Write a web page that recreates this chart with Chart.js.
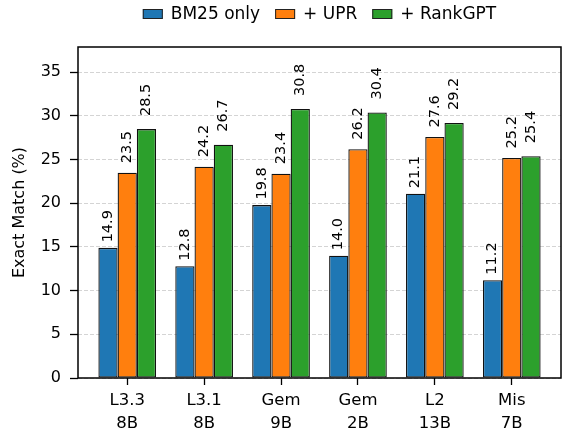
<!DOCTYPE html>
<html>
<head>
<meta charset="utf-8">
<script src="https://cdn.jsdelivr.net/npm/chart.js@4.4.1/dist/chart.umd.min.js"></script>
<style>
  html, body { margin: 0; padding: 0; background: #ffffff; }
  #wrap { width: 563px; height: 429px; }
</style>
</head>
<body>
<div id="wrap"><canvas id="c" width="563" height="429"></canvas></div>
<script>
// ---- data ----
const categories = [["L3.3", "8B"], ["L3.1", "8B"], ["Gem", "9B"], ["Gem", "2B"], ["L2", "13B"], ["Mis", "7B"]];
const seriesNames = ["BM25 only", "+ UPR", "+ RankGPT"];
const bm25Only = [14.9, 12.8, 19.8, 14.0, 21.1, 11.2];
const plusUPR = [23.5, 24.2, 23.4, 26.2, 27.6, 25.2];
const plusRankGPT = [28.5, 26.7, 30.8, 30.4, 29.2, 25.4];
const yTicks = [0, 5, 10, 15, 20, 25, 30, 35];
const yMax = 37.9;

const colors = ["#1f77b4", "#ff7f0e", "#2ca02c"];
const labelGaps = [5.5, 9.5, 13];
const seriesValues = [bm25Only, plusUPR, plusRankGPT];
const FONT = "'DejaVu Sans', sans-serif";

const datasets = seriesValues.map((vals, s) => ({
  label: seriesNames[s],
  data: vals.map((v, i) => ({ x: i, y: v })),
  backgroundColor: colors[s],
  borderColor: "#111111",
  borderWidth: 1.3,
  borderSkipped: false,
  categoryPercentage: 0.75,
  barPercentage: 1.0
}));

const valueLabels = {
  id: "valueLabels",
  afterDatasetsDraw(chart) {
    const ctx = chart.ctx;
    ctx.save();
    ctx.fillStyle = "#000";
    ctx.font = "14.5px " + FONT;
    ctx.textAlign = "left";
    ctx.textBaseline = "middle";
    chart.data.datasets.forEach((ds, di) => {
      const meta = chart.getDatasetMeta(di);
      meta.data.forEach((bar, i) => {
        const v = ds.data[i].y;
        ctx.save();
        ctx.translate(bar.x, bar.y - labelGaps[di]);
        ctx.rotate(-Math.PI / 2);
        ctx.fillText(v.toFixed(1), 0, 0);
        ctx.restore();
      });
    });
    ctx.restore();
  }
};

const frameAndLegend = {
  id: "frameAndLegend",
  afterDraw(chart) {
    const ctx = chart.ctx;
    const a = chart.chartArea;
    ctx.save();
    ctx.setLineDash([]);
    ctx.strokeStyle = "#000";
    ctx.lineWidth = 1.5;
    ctx.strokeRect(a.left, a.top, a.right - a.left, a.bottom - a.top);

    // legend
    ctx.font = "17px " + FONT;
    const boxW = 20, boxH = 10, gapText = 8, gapItem = 15;
    const widths = seriesNames.map(n => ctx.measureText(n).width);
    let total = 0;
    widths.forEach((w, i) => { total += boxW + gapText + w + (i < widths.length - 1 ? gapItem : 0); });
    let x = (a.left + a.right) / 2 - total / 2;
    const cy = 14;
    ctx.textBaseline = "middle";
    ctx.textAlign = "left";
    seriesNames.forEach((n, i) => {
      ctx.fillStyle = colors[i];
      ctx.fillRect(x, cy - boxH / 2, boxW, boxH);
      ctx.strokeStyle = "#222";
      ctx.lineWidth = 1;
      ctx.strokeRect(x + 0.5, cy - boxH / 2 + 0.5, boxW - 1, boxH - 1);
      ctx.fillStyle = "#000";
      ctx.fillText(n, x + boxW + gapText, cy + 1);
      x += boxW + gapText + widths[i] + gapItem;
    });
    ctx.restore();
  }
};

new Chart(document.getElementById("c"), {
  type: "bar",
  data: { datasets },
  options: {
    responsive: false,
    animation: false,
    devicePixelRatio: 1,
    layout: { padding: { left: 0, right: 2, top: 47, bottom: 0 } },
    plugins: {
      legend: { display: false },
      tooltip: { enabled: false }
    },
    scales: {
      x: {
        type: "linear",
        min: -0.64,
        max: 5.64,
        offset: false,
        afterFit(scale) { scale.height = 51; },
        afterBuildTicks(scale) { scale.ticks = categories.map((c, i) => ({ value: i })); },
        border: { display: false },
        grid: {
          offset: false,
          drawOnChartArea: false,
          drawTicks: true,
          tickLength: 7,
          tickColor: "#000",
          tickWidth: 1.3
        },
        ticks: {
          autoSkip: false,
          maxRotation: 0,
          padding: 4,
          color: "#000",
          font: { family: FONT, size: 16.5, lineHeight: 1.4 },
          callback: (v) => categories[v]
        }
      },
      y: {
        min: 0,
        max: yMax,
        afterFit(scale) { scale.width = 78; },
        afterBuildTicks(scale) { scale.ticks = yTicks.map(v => ({ value: v })); },
        border: { display: false, dash: [4, 2] },
        grid: {
          color: "rgba(0,0,0,0.17)",
          lineWidth: 1,
          drawTicks: true,
          tickLength: 8,
          tickColor: "#000",
          tickWidth: 1.3,
          tickBorderDash: []
        },
        ticks: {
          padding: 9,
          color: "#000",
          font: { family: FONT, size: 16 }
        },
        title: {
          display: true,
          text: "Exact Match (%)",
          color: "#000",
          font: { family: FONT, size: 16 },
          padding: { top: 10, bottom: 0 }
        }
      }
    }
  },
  plugins: [valueLabels, frameAndLegend]
});
</script>
</body>
</html>
